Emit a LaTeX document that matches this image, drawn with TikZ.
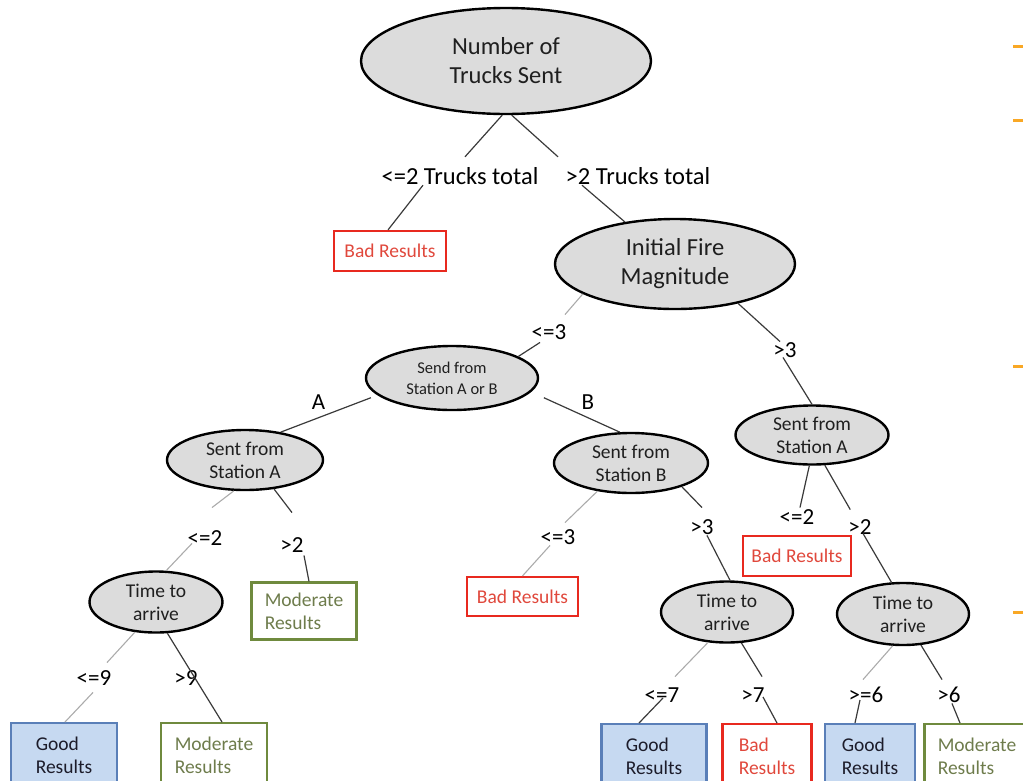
\documentclass[tikz,border=0pt]{standalone}
\usepackage{fontspec}
\setmainfont{Carlito}
\usetikzlibrary{shapes.geometric}

\definecolor{ovalfill}{HTML}{DCDCDC}
\definecolor{badred}{HTML}{E8291F}
\definecolor{badtext}{HTML}{E0483C}
\definecolor{goodfill}{HTML}{C6D9F1}
\definecolor{goodline}{HTML}{5A7FB8}
\definecolor{goodtext}{HTML}{1C1C2A}
\definecolor{modline}{HTML}{6F8A3E}
\definecolor{modtext}{HTML}{6E7C4C}
\definecolor{darkline}{HTML}{3A3A3A}
\definecolor{lightline}{HTML}{ABABAB}
\definecolor{tick}{HTML}{F9A825}

\tikzset{
  oval/.style={ellipse, draw=black, line width=2.4pt, fill=ovalfill, inner sep=0pt,
    align=center, text=black!88},
  big/.style={font=\fontsize{24.5}{29}\selectfont},
  mid/.style={font=\fontsize{19.5}{23}\selectfont},
  small/.style={font=\fontsize{16.5}{21}\selectfont},
  cut/.style={inner sep=0pt, text=black, font=\fontsize{23}{27}\selectfont,
    text height=14.5pt, text depth=0pt},
  cutbig/.style={inner sep=0pt, text=black, font=\fontsize{24.5}{29}\selectfont,
    text height=16pt, text depth=0pt},
  boxbase/.style={rectangle, line width=2.2pt, inner sep=0pt, align=left,
    font=\fontsize{19.5}{23}\selectfont},
  badbox/.style={boxbase, draw=badred, text=badtext},
  goodbox/.style={boxbase, draw=goodline, fill=goodfill, text=goodtext},
  modbox/.style={boxbase, draw=modline, text=modtext},
  dk/.style={draw=darkline, line width=1.2pt},
  lt/.style={draw=lightline, line width=1.1pt},
}

\begin{document}
\begin{tikzpicture}[x=1pt,y=-1pt]
\useasboundingbox (0,0) rectangle (1023,780);

% decision ovals
\node[oval, big, minimum width=290pt, minimum height=106pt] (root) at (506,61) {Number of\\Trucks Sent};
\node[oval, big, minimum width=240pt, minimum height=90pt] (ifm) at (675,264) {Initial Fire\\Magnitude};
\node[oval, small, minimum width=172pt, minimum height=64pt] (sab) at (452,378) {Send from\\Station A or B};
\node[oval, mid, minimum width=156pt, minimum height=60pt] (staL) at (245,460) {Sent from\\Station A};
\node[oval, mid, minimum width=154pt, minimum height=60pt] (stb) at (631,463) {Sent from\\Station B};
\node[oval, mid, minimum width=153pt, minimum height=59pt] (staR) at (812,435) {Sent from\\Station A};
\node[oval, mid, minimum width=133pt, minimum height=61pt] (timeL) at (156,602) {Time to\\arrive};
\node[oval, mid, minimum width=132pt, minimum height=61pt] (timeM) at (727,612) {Time to\\arrive};
\node[oval, mid, minimum width=132pt, minimum height=62pt] (timeR) at (903,614) {Time to\\arrive};

% outcome boxes
\node[badbox, minimum width=112pt, minimum height=40pt] (bad1) at (390,251) {Bad Results};
\node[badbox, minimum width=111pt, minimum height=39pt] (bad2) at (522.5,596.5) {Bad Results};
\node[badbox, minimum width=108pt, minimum height=40pt] (bad3) at (797,556) {Bad Results};
\node[modbox, minimum width=105pt, minimum height=57pt] (mod1) at (304,611) {Moderate\\Results};
\node[goodbox, anchor=north, minimum width=106pt, minimum height=64pt] (good1) at (64,722) {Good\\Results};
\node[modbox, anchor=north, minimum width=106pt, minimum height=64pt] (mod2) at (214,722) {Moderate\\Results};
\node[goodbox, anchor=north, minimum width=105pt, minimum height=64pt] (good2) at (654,723) {Good\\Results};
\node[badbox, anchor=north, minimum width=89pt, minimum height=64pt] (bad4) at (767,723) {Bad\\Results};
\node[goodbox, anchor=north, minimum width=90pt, minimum height=64pt] (good3) at (870,723) {Good\\Results};
\node[modbox, anchor=north, minimum width=105pt, minimum height=64pt] (mod3) at (977,723) {Moderate\\Results};

% branch conditions
\node[cutbig] (lt1) at (460,176) {<=2 Trucks total};
\node[cutbig] (lt2) at (638,176) {>2 Trucks total};
\node[cut] (l3a) at (549,332) {<=3};
\node[cut] (l3b) at (785,350) {>3};
\node[cut] (l2L) at (205,538) {<=2};
\node[cut] (g2L) at (292,545) {>2};
\node[cut] (le9) at (94,678) {<=9};
\node[cut] (gt9) at (186,678) {>9};
\node[cut] (le3b) at (558,537) {<=3};
\node[cut] (gt3b) at (702,527) {>3};
\node[cut] (le2R) at (797,517) {<=2};
\node[cut] (gt2R) at (860,527) {>2};
\node[cut] (le7) at (662,695) {<=7};
\node[cut] (gt7) at (753,695) {>7};
\node[cut] (ge6) at (866,695) {>=6};
\node[cut] (gt6) at (949,695) {>6};

% first split
\draw[dk] (root.266) -- ([xshift=5pt,yshift=11pt]lt1.north);
\draw[dk] ([xshift=-37pt,yshift=-1pt]lt1.south) -- ([xshift=-2pt]bad1.north);
\draw[dk] (root.276) -- ([xshift=-80pt,yshift=11pt]lt2.north);
\draw[dk] ([xshift=-56pt,yshift=-1pt]lt2.south) -- (ifm.140);

% fire magnitude
\draw[lt] (ifm.198) -- ([xshift=16pt,yshift=10pt]l3a.north);
\draw[dk] ([xshift=-9pt,yshift=-3pt]l3a.south) -- (sab.18);
\draw[dk] (ifm.328) -- ([xshift=-5pt,yshift=1pt]l3b.north);
\draw[dk] ([xshift=-2pt]l3b.south) -- (staR.north);

% station choice
\draw[dk, shorten <=7pt] (sab.193) -- (staL.38) node[cut, pos=0.61, above=7.5pt] (labA) {A};
\draw[dk, shorten <=14pt] (sab.350) -- (stb.110) node[cut, pos=0.64, above=8pt] (labB) {B};

% station A, left branch
\draw[lt] (staL.250) -- ([xshift=7pt,yshift=23pt]l2L.north);
\draw[lt] ([xshift=-13pt,yshift=2pt]l2L.south) -- (timeL.72);
\draw[dk] (staL.315) -- ([yshift=25pt]g2L.north);
\draw[dk] ([xshift=12pt,yshift=-3pt]g2L.south) -- ([xshift=5pt]mod1.north);

\draw[lt] (timeL.235) -- ([xshift=13pt,yshift=8pt]le9.north);
\draw[lt] ([xshift=-1pt,yshift=-7pt]le9.south) -- ([xshift=1pt]good1.north);
\draw[dk] (timeL.290) -- ([xshift=8pt]mod2.north);

% station B
\draw[lt] (stb.220) -- ([xshift=7pt,yshift=7pt]le3b.north);
\draw[lt] ([xshift=-8pt,yshift=-1pt]le3b.south) -- (bad2.north);
\draw[dk] (stb.335) -- ([yshift=12pt]gt3b.north);
\draw[dk] ([xshift=5pt,yshift=-1pt]gt3b.south) -- ([xshift=3pt]timeM.north);

% station A, right branch
\draw[dk] (staR.265) -- ([xshift=3pt,yshift=2pt]le2R.north);
\draw[dk] (staR.293) -- ([xshift=2pt,yshift=10pt]gt2R.north west);
\draw[dk] ([xshift=3pt,yshift=1pt]gt2R.south) -- (timeR.110);

% arrival times
\draw[lt] (timeM.238) -- ([xshift=13pt,yshift=11pt]le7.north);
\draw[dk] ([xshift=1pt,yshift=-3pt]le7.center) -- ([xshift=-15pt]good2.north);
\draw[dk] (timeM.295) -- ([xshift=9pt,yshift=11pt]gt7.north);
\draw[dk] ([xshift=10pt,yshift=-2pt]gt7.center) -- ([xshift=10pt]bad4.north);

\draw[lt] (timeR.252) -- ([xshift=-3pt,yshift=8pt]ge6.north);
\draw[dk] ([xshift=-6pt,yshift=-5pt]ge6.center) -- ([xshift=-15pt]good3.north);
\draw[dk] (timeR.300) -- ([xshift=-7pt,yshift=8pt]gt6.north);
\draw[dk] ([xshift=3pt,yshift=-1pt]gt6.south) -- ([xshift=-17pt]mod3.north);

% tick marks along the right edge
\foreach \ty in {46,120,366,612}
  \draw[tick, line width=3pt] (1013,\ty) -- (1023,\ty);
\end{tikzpicture}
\end{document}
